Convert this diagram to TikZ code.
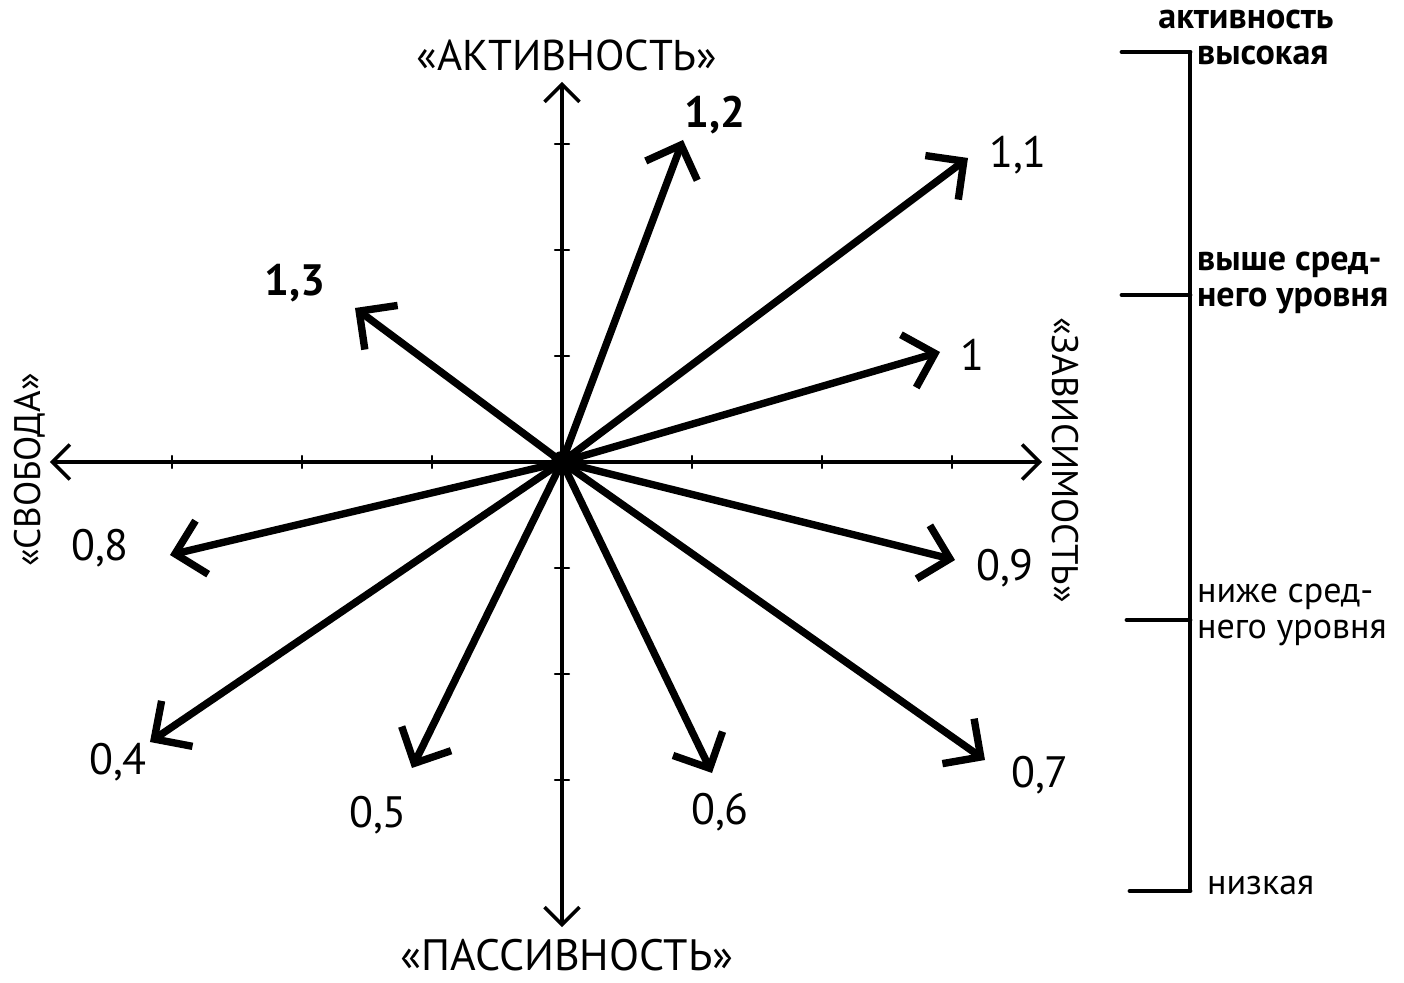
\documentclass[tikz,border=0pt]{standalone}
\usepackage{fontspec}
\setmainfont{PT Sans}
\usetikzlibrary{arrows.meta}

\begin{document}
\begin{tikzpicture}[line cap=round,
  axis/.style={line width=2pt,-{Straight Barb[length=3.5mm,width=7mm]}},
  vec/.style={line width=4.2pt,-{Straight Barb[length=5.5mm,width=11mm]}},
  tick/.style={line width=1.2pt},
  num/.style={font=\fontsize{25}{28}\selectfont},
  axlabel/.style={font=\fontsize{21}{25}\selectfont},
  lvl/.style={font=\fontsize{20.5}{20}\selectfont,align=left,anchor=west,inner sep=1pt}]
\useasboundingbox (-11.24,-10.42) rectangle (16.84,9.24);
% axes
\coordinate (O) at (0,0);
\coordinate (up) at (0,7.6);
\coordinate (down) at (0,-9.3);
\coordinate (left) at (-10.24,0);
\coordinate (right) at (9.6,0);
\draw[axis](O)--(up);
\draw[axis](O)--(down);
\draw[axis](O)--(left);
\draw[axis](O)--(right);
\foreach \t in {2.12,4.24,6.36}{
  \draw[tick](-0.14,\t)--(0.14,\t);
  \draw[tick](-0.14,-\t)--(0.14,-\t);
}
\foreach \t in {2.6,5.2,7.8}{
  \draw[tick](\t,-0.12)--(\t,0.12);
  \draw[tick](-\t,-0.12)--(-\t,0.12);
}
\node[axlabel,font=\fontsize{24.5}{28}\selectfont] (act) at (0.1,8.14) {«АКТИВНОСТЬ»};
\node[axlabel,font=\fontsize{25}{28}\selectfont,inner sep=1pt] (pas) at (0.1,-9.86) {«ПАССИВНОСТЬ»};
\node[axlabel,rotate=90] (svo) at (-10.64,-0.16) {«СВОБОДА»};
\node[axlabel,rotate=-90] (zav) at (10.06,0.04) {«ЗАВИСИМОСТЬ»};
% vectors
\fill (O) circle (0.22);
\coordinate (v12) at (2.42,6.44);
\coordinate (v11) at (8.12,6.08);
\coordinate (v13) at (-4.14,3.08);
\coordinate (v10) at (7.56,2.2);
\coordinate (v09) at (7.86,-1.96);
\coordinate (v08) at (-7.84,-1.86);
\coordinate (v07) at (8.46,-5.96);
\coordinate (v06) at (3.0,-6.22);
\coordinate (v05) at (-3.0,-6.12);
\coordinate (v04) at (-8.24,-5.6);
\draw[vec](O)--(v12);
\draw[vec](O)--(v11);
\draw[vec](O)--(v13);
\draw[vec](O)--(v10);
\draw[vec](O)--(v09);
\draw[vec](O)--(v08);
\draw[vec](O)--(v07);
\draw[vec](O)--(v06);
\draw[vec](O)--(v05);
\draw[vec](O)--(v04);
\node[num,font=\fontsize{25}{28}\selectfont\bfseries] (l12) at (3.06,6.94) {1,2};
\node[num] (l11) at (9.12,6.14) {1,1};
\node[num,font=\fontsize{25}{28}\selectfont\bfseries] (l13) at (-5.34,3.58) {1,3};
\node[num] (l10) at (8.2,2.14) {1};
\node[num] (l09) at (8.86,-2.12) {0,9};
\node[num] (l08) at (-9.24,-1.72) {0,8};
\node[num] (l07) at (9.56,-6.26) {0,7};
\node[num] (l06) at (3.16,-7.0) {0,6};
\node[num] (l05) at (-3.68,-7.06) {0,5};
\node[num] (l04) at (-8.88,-6.0) {0,4};
% scale
\coordinate (s1) at (12.56,8.2);
\coordinate (s2) at (12.56,3.34);
\coordinate (s3) at (12.56,-3.16);
\coordinate (s4) at (12.56,-8.58);
\coordinate (e1) at (11.2,8.2);
\coordinate (e2) at (11.2,3.34);
\coordinate (e3) at (11.3,-3.16);
\coordinate (e4) at (11.36,-8.58);
\draw[line width=2.8pt,line cap=butt](s1)--(s4);
\draw[line width=2.8pt](e1)--(s1);
\draw[line width=2.8pt](e2)--(s2);
\draw[line width=2.8pt](e3)--(s3);
\draw[line width=2.8pt](e4)--(s4);
\node[lvl,anchor=center,font=\fontsize{20.5}{20}\selectfont\bfseries] (head) at (13.68,8.84) {активность};
\node[lvl,font=\fontsize{20.5}{20}\selectfont\bfseries] (hi) at (12.66,8.12) {высокая};
\node[lvl,font=\fontsize{20.5}{20}\selectfont\bfseries] (mh) at (12.66,3.58) {выше сред-\\него уровня};
\node[lvl] (ml) at (12.66,-3.06) {ниже сред-\\него уровня};
\node[lvl] (lo) at (12.86,-8.46) {низкая};
\end{tikzpicture}
\end{document}
